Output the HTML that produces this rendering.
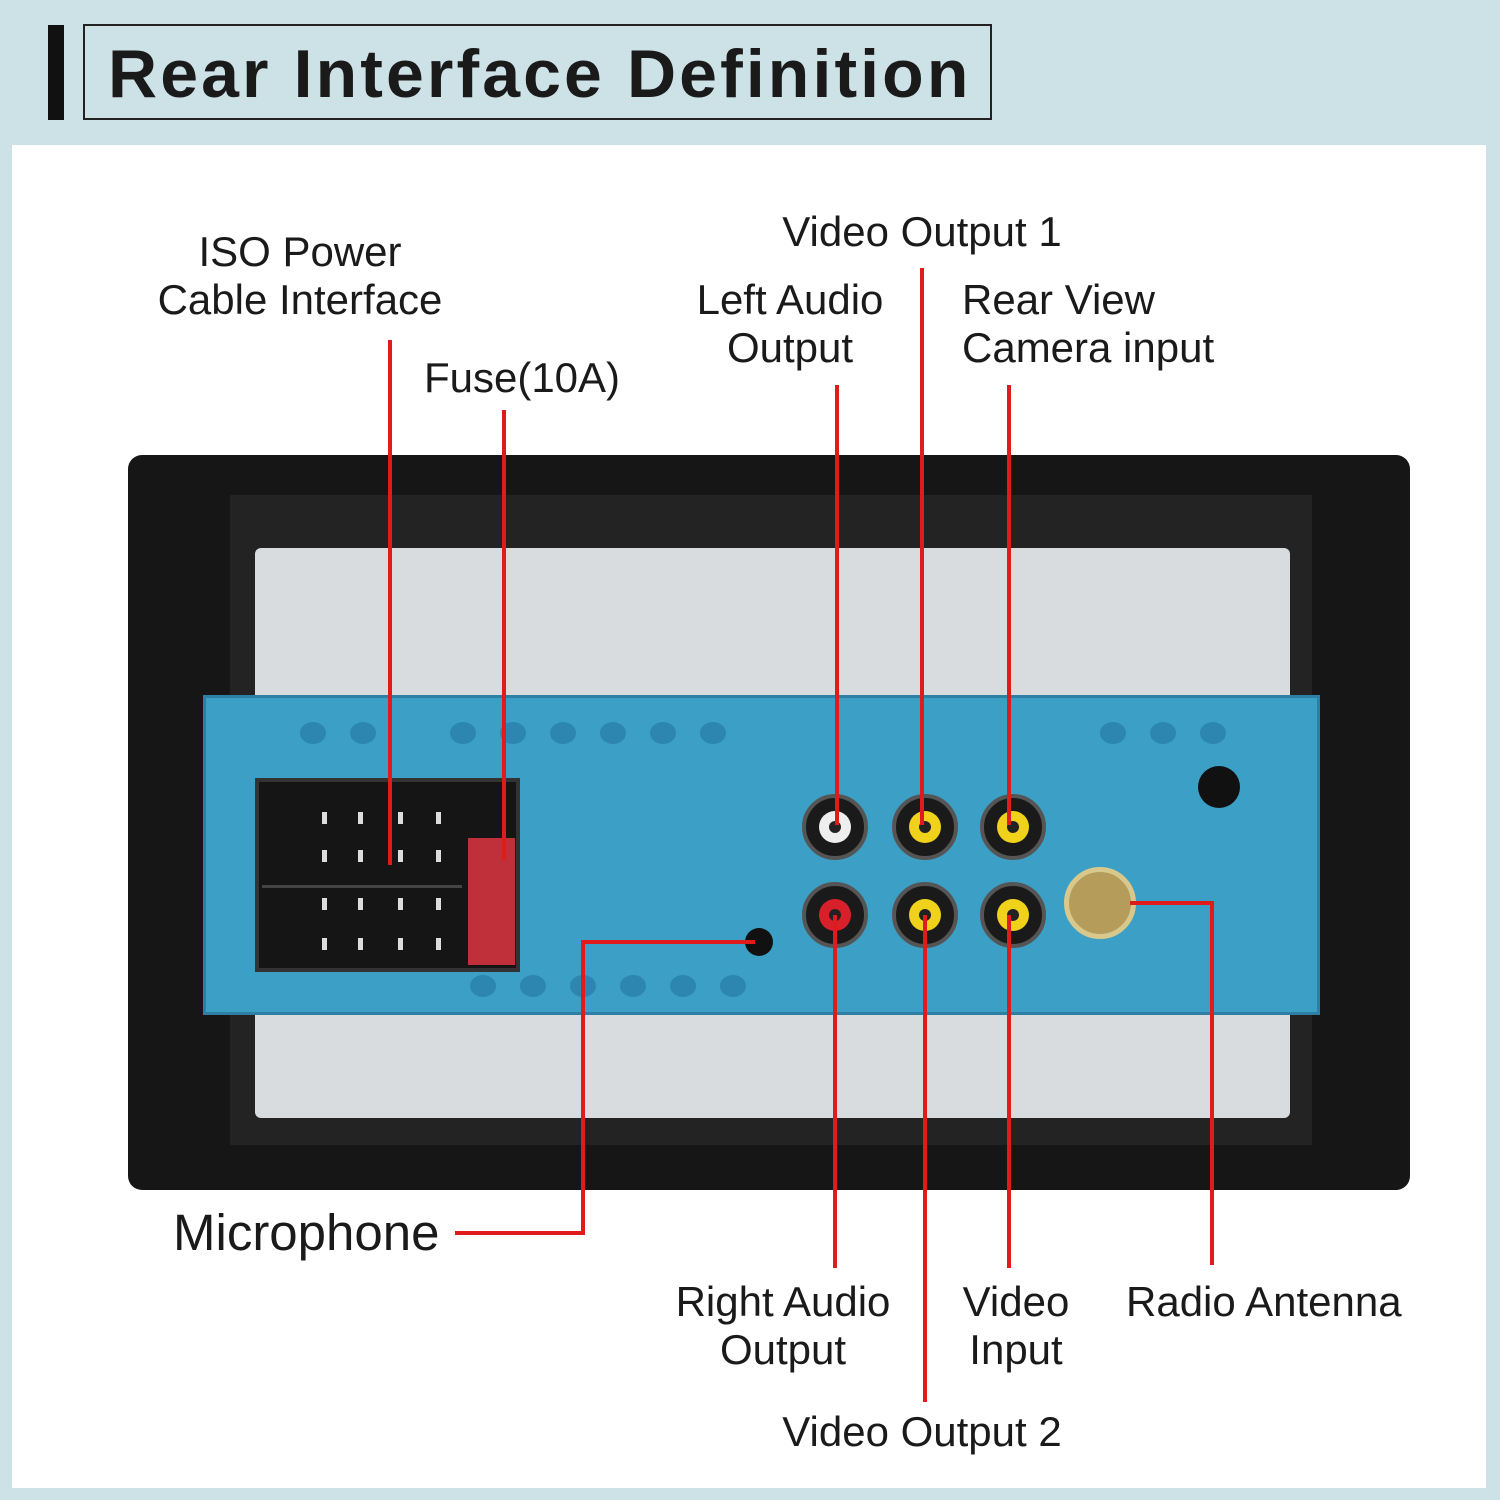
<!DOCTYPE html>
<html><head><meta charset="utf-8"><style>
*{margin:0;padding:0;box-sizing:border-box}
body{width:1500px;height:1500px;background:#cde2e7;position:relative;overflow:hidden;font-family:"Liberation Sans",sans-serif;color:#1a1a1a}
.abs{position:absolute}
.t{position:absolute;font-size:42px;line-height:48px;white-space:nowrap}
.c{transform:translateX(-50%);text-align:center}
.rca{position:absolute;width:66px;height:66px;border-radius:50%;background:#1a1a1a;border:4px solid #555}
.rca i{position:absolute;left:13px;top:13px;width:32px;height:32px;border-radius:50%}
.rca b{position:absolute;left:23px;top:23px;width:12px;height:12px;border-radius:50%;background:#222}
.pin{position:absolute;width:5px;height:12px;background:#ddd}
.h{position:absolute;width:26px;height:22px;border-radius:50%;background:#2c86b0}
</style></head><body>
<div class="abs" style="left:12px;top:145px;width:1474px;height:1343px;background:#fff"></div>
<div class="abs" style="left:48px;top:25px;width:16px;height:95px;background:#111"></div>
<div class="abs" style="left:83px;top:24px;width:909px;height:96px;border:2px solid #222"></div>
<div class="abs" style="left:108px;top:32px;font-size:68px;font-weight:bold;line-height:84px;white-space:nowrap;letter-spacing:3.1px">Rear Interface Definition</div>

<!-- device -->
<div class="abs" style="left:128px;top:455px;width:1282px;height:735px;background:#161616;border-radius:14px"></div>
<div class="abs" style="left:230px;top:495px;width:1082px;height:650px;background:#232323"></div>
<div class="abs" style="left:255px;top:548px;width:1035px;height:570px;background:#d9dcde;border-radius:6px"></div>
<div class="abs" style="left:203px;top:695px;width:1117px;height:320px;background:#3b9fc6;border:3px solid #2d7fa3"></div>
<div class="h" style="left:300px;top:722px"></div><div class="h" style="left:350px;top:722px"></div><div class="h" style="left:450px;top:722px"></div><div class="h" style="left:500px;top:722px"></div><div class="h" style="left:550px;top:722px"></div><div class="h" style="left:600px;top:722px"></div><div class="h" style="left:650px;top:722px"></div><div class="h" style="left:700px;top:722px"></div>
<div class="h" style="left:1100px;top:722px"></div><div class="h" style="left:1150px;top:722px"></div><div class="h" style="left:1200px;top:722px"></div>
<div class="h" style="left:470px;top:975px"></div><div class="h" style="left:520px;top:975px"></div><div class="h" style="left:570px;top:975px"></div><div class="h" style="left:620px;top:975px"></div><div class="h" style="left:670px;top:975px"></div><div class="h" style="left:720px;top:975px"></div>
<div class="abs" style="left:255px;top:778px;width:265px;height:194px;background:#151515;border:4px solid #333"></div>
<div class="abs" style="left:262px;top:885px;width:200px;height:3px;background:#444"></div>
<div class="pin" style="left:322px;top:812px"></div><div class="pin" style="left:358px;top:812px"></div><div class="pin" style="left:398px;top:812px"></div><div class="pin" style="left:436px;top:812px"></div>
<div class="pin" style="left:322px;top:850px"></div><div class="pin" style="left:358px;top:850px"></div><div class="pin" style="left:398px;top:850px"></div><div class="pin" style="left:436px;top:850px"></div>
<div class="pin" style="left:322px;top:898px"></div><div class="pin" style="left:358px;top:898px"></div><div class="pin" style="left:398px;top:898px"></div><div class="pin" style="left:436px;top:898px"></div>
<div class="pin" style="left:322px;top:938px"></div><div class="pin" style="left:358px;top:938px"></div><div class="pin" style="left:398px;top:938px"></div><div class="pin" style="left:436px;top:938px"></div>
<div class="abs" style="left:468px;top:838px;width:47px;height:127px;background:#c0303a"></div>
<div class="rca" style="left:802px;top:794px"><i style="background:#eee"></i><b></b></div>
<div class="rca" style="left:892px;top:794px"><i style="background:#f1d21a"></i><b></b></div>
<div class="rca" style="left:980px;top:794px"><i style="background:#f1d21a"></i><b></b></div>
<div class="rca" style="left:802px;top:882px"><i style="background:#d8202a"></i><b></b></div>
<div class="rca" style="left:892px;top:882px"><i style="background:#f1d21a"></i><b></b></div>
<div class="rca" style="left:980px;top:882px"><i style="background:#f1d21a"></i><b></b></div>
<div class="abs" style="left:1064px;top:867px;width:72px;height:72px;border-radius:50%;background:#b59c5a;border:5px solid #d8c88c"></div>
<div class="abs" style="left:745px;top:928px;width:28px;height:28px;border-radius:50%;background:#111"></div>
<div class="abs" style="left:1198px;top:766px;width:42px;height:42px;border-radius:50%;background:#111"></div>

<svg class="abs" style="left:0;top:0" width="1500" height="1500">
<g stroke="#e01b1b" stroke-width="4" fill="none">
<path d="M390 340V865"/><path d="M504 410V860"/><path d="M837 385V825"/><path d="M922 268V825"/><path d="M1009 385V825"/>
<path d="M835 915V1268"/><path d="M925 915V1402"/><path d="M1009 915V1268"/>
<path d="M1130 903H1212V1265"/>
<path d="M455 1233H583V942H755"/>
</g></svg>

<div class="t c" style="left:300px;top:228px">ISO Power</div>
<div class="t c" style="left:300px;top:276px">Cable Interface</div>
<div class="t c" style="left:522px;top:354px">Fuse(10A)</div>
<div class="t c" style="left:922px;top:208px">Video Output 1</div>
<div class="t c" style="left:790px;top:276px">Left Audio<br>Output</div>
<div class="t" style="left:962px;top:276px">Rear View<br>Camera input</div>
<div class="t" style="left:173px;top:1205px;font-size:51px;line-height:56px">Microphone</div>
<div class="t c" style="left:783px;top:1278px">Right Audio<br>Output</div>
<div class="t c" style="left:1016px;top:1278px">Video<br>Input</div>
<div class="t" style="left:1126px;top:1278px">Radio Antenna</div>
<div class="t c" style="left:922px;top:1408px">Video Output 2</div>
</body></html>
